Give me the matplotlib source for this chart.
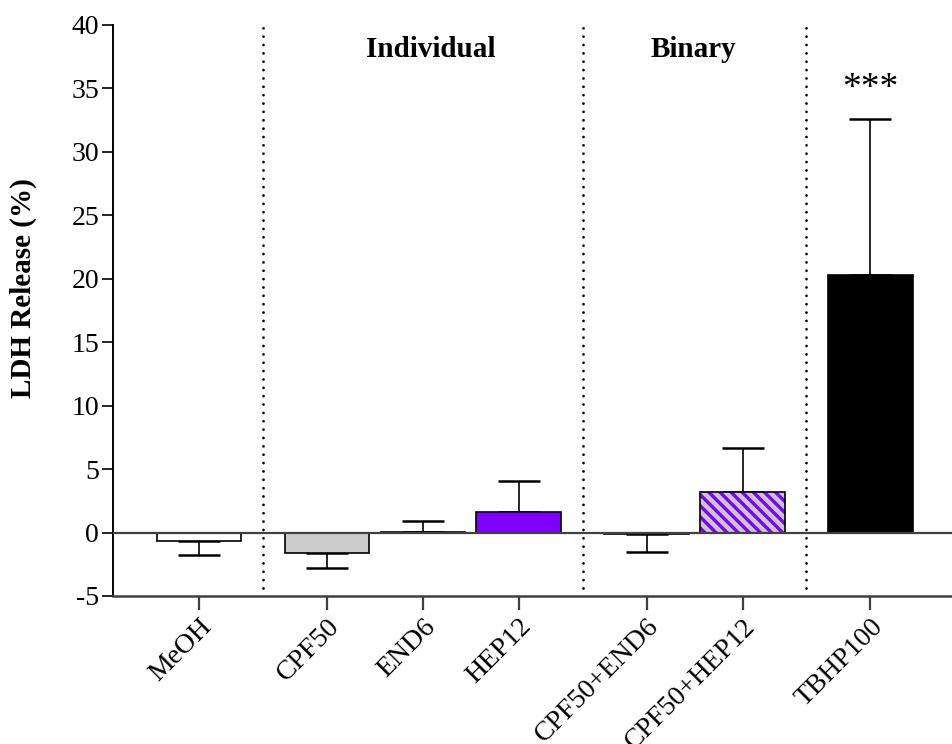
import matplotlib
matplotlib.use('Agg')
import matplotlib.pyplot as plt

plt.rcParams['font.family'] = ['Liberation Serif', 'DejaVu Serif']
plt.rcParams['axes.unicode_minus'] = False
plt.rcParams['hatch.linewidth'] = 3.2

# treatments, grouped: control | individual | binary | positive control
labels = ['MeOH', 'CPF50', 'END6', 'HEP12', 'CPF50+END6', 'CPF50+HEP12', 'TBHP100']
positions = [0, 1.333, 2.333, 3.333, 4.667, 5.667, 7.0]
means = [-0.7, -1.6, 0.05, 1.6, -0.15, 3.2, 20.3]
err_low = [1.1, 1.2, 0, 0, 1.35, 0, 0]
err_high = [0, 0, 0.85, 2.45, 0, 3.45, 12.3]
fills = ['white', '#cccccc', 'white', '#8000ff', 'white', '#8000ff', 'black']
hatches = [None, None, None, None, None, '\\\\\\', None]
dividers = [0.667, 4.0, 6.333]

fig = plt.figure(figsize=(9.52, 7.44), dpi=100)
ax = fig.add_axes([0.1187, 0.199, 0.8813, 0.7674])

bw = 0.88
for x, m, c, h in zip(positions, means, fills, hatches):
    if h:
        ax.bar(x, m, bw, color=c, edgecolor='#c8c8c8', hatch=h, linewidth=0, zorder=2)
        ax.bar(x, m, bw, fill=False, edgecolor='black', linewidth=1.2, zorder=3)
    else:
        ax.bar(x, m, bw, color=c, edgecolor='black', linewidth=1.2, zorder=2)

ax.errorbar(positions, means, yerr=[err_low, err_high], fmt='none', ecolor='black',
            elinewidth=1.2, capsize=15, capthick=1.8, zorder=1)

ax.axhline(0, color='#404040', linewidth=1.6, zorder=4)
ax.vlines(dividers, -4.4, 40.2, colors='black', linewidth=2.0,
          linestyles=(0, (0.01, 3.0)), capstyle='round', zorder=1)

ax.text(2.42, 38.1, 'Individual', ha='center', va='center', fontsize=21, fontweight='bold')
ax.text(5.15, 38.1, 'Binary', ha='center', va='center', fontsize=21, fontweight='bold')
ax.text(7.0, 35.0, '***', ha='center', va='center', fontsize=27)

ax.set_xlim(-0.896, 7.85)
ax.set_ylim(-5, 40)
ax.set_yticks(range(-5, 41, 5))
ax.set_xticks(positions)
ax.set_xticklabels(labels, rotation=45, ha='right', rotation_mode='anchor')
ax.tick_params(axis='y', labelsize=20, length=8, width=1.2, pad=2)
ax.tick_params(axis='x', labelsize=20, length=10, width=1.6, pad=3, color='#404040')

ax.set_ylabel('LDH Release (%)', fontsize=21, fontweight='bold')
ax.yaxis.set_label_coords(-0.09, 0.54)

ax.spines['top'].set_visible(False)
ax.spines['right'].set_visible(False)
ax.spines['left'].set_linewidth(1.4)
ax.spines['bottom'].set_linewidth(1.8)
ax.spines['bottom'].set_color('#404040')

fig.savefig('out.png', dpi=100)
